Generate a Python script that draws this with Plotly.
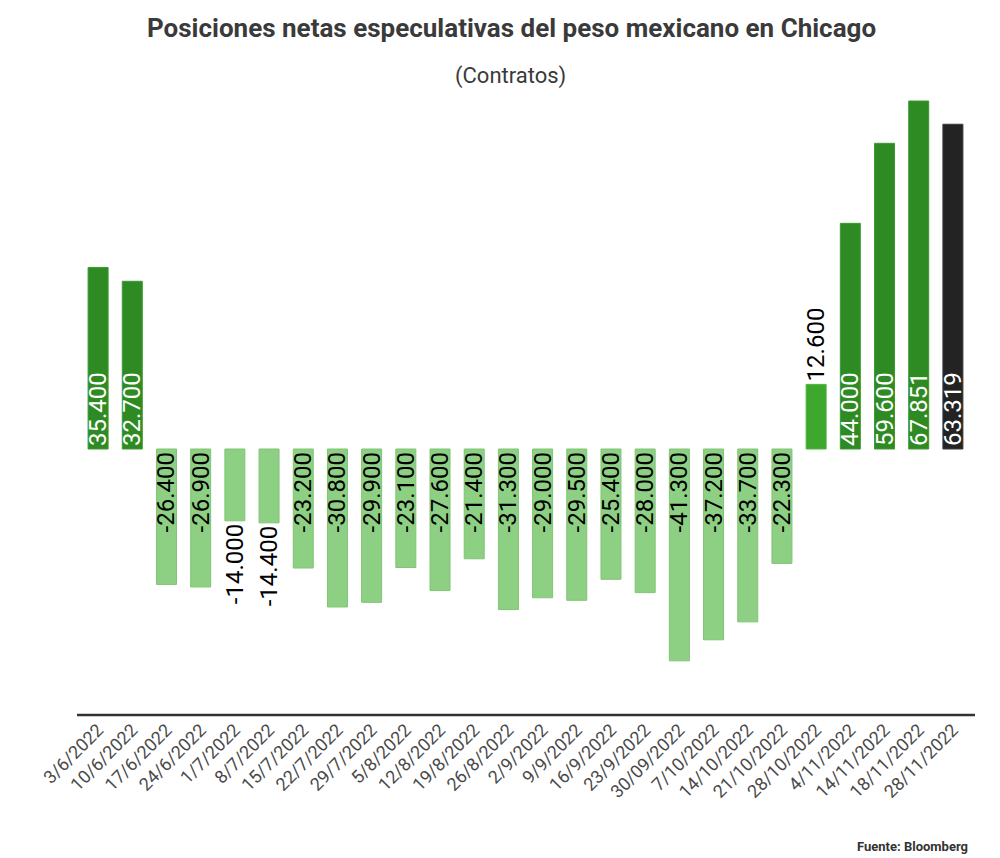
import plotly.graph_objects as go

fechas = ["3/6/2022", "10/6/2022", "17/6/2022", "24/6/2022", "1/7/2022", "8/7/2022",
          "15/7/2022", "22/7/2022", "29/7/2022", "5/8/2022", "12/8/2022", "19/8/2022",
          "26/8/2022", "2/9/2022", "9/9/2022", "16/9/2022", "23/9/2022", "30/09/2022",
          "7/10/2022", "14/10/2022", "21/10/2022", "28/10/2022", "4/11/2022",
          "14/11/2022", "18/11/2022", "28/11/2022"]
valores = [35400, 32700, -26400, -26900, -14000, -14400, -23200, -30800, -29900,
           -23100, -27600, -21400, -31300, -29000, -29500, -25400, -28000, -41300,
           -37200, -33700, -22300, 12600, 44000, 59600, 67851, 63319]
etiquetas = ["35.400", "32.700", "-26.400", "-26.900", "-14.000", "-14.400", "-23.200",
             "-30.800", "-29.900", "-23.100", "-27.600", "-21.400", "-31.300", "-29.000",
             "-29.500", "-25.400", "-28.000", "-41.300", "-37.200", "-33.700", "-22.300",
             "12.600", "44.000", "59.600", "67.851", "63.319"]
etiquetas_fuera = ["1/7/2022", "8/7/2022", "28/10/2022"]

DARK = "#2e8a22"
LIGHT = "#8ed083"
BRIGHT = "#3da82d"
BLACK = "#232323"

colores = []
bordes = []
colores_texto = []
posiciones = []
for i, v in enumerate(valores):
    if i == len(valores) - 1:
        colores.append(BLACK); bordes.append("#3a3a3a"); colores_texto.append("white")
    elif fechas[i] == "28/10/2022":
        colores.append(BRIGHT); bordes.append("#4cb63c"); colores_texto.append("white")
    elif v >= 0:
        colores.append(DARK); bordes.append("#3c9a30"); colores_texto.append("white")
    else:
        colores.append(LIGHT); bordes.append("#80c474"); colores_texto.append("black")
    posiciones.append("outside" if fechas[i] in etiquetas_fuera else "inside")

fig = go.Figure(go.Bar(
    x=fechas, y=valores, text=etiquetas,
    texttemplate="%{text}",
    textposition=posiciones,
    textangle=-90,
    insidetextanchor="start",
    insidetextfont=dict(family="Roboto", size=24, color=colores_texto),
    outsidetextfont=dict(family="Roboto", size=24, color="black"),
    cliponaxis=False,
    constraintext="none",
    marker=dict(color=colores, line=dict(color=bordes, width=1)),
    hoverinfo="skip",
))

fig.update_layout(
    width=992, height=850,
    paper_bgcolor="white", plot_bgcolor="white",
    margin=dict(l=73, r=30, t=87, b=143),
    bargap=0.415,
    showlegend=False,
    font=dict(family="Roboto", color="#444444"),
    xaxis=dict(
        type="category", tickangle=-45, showgrid=False, zeroline=False,
        showline=False, ticks="",
        tickfont=dict(family="Roboto", size=18, color="#4a4a4a"),
    ),
    yaxis=dict(
        range=[-51860, 69020], showgrid=False, zeroline=False,
        showticklabels=False, showline=False, ticks="",
    ),
    shapes=[
        dict(type="line", xref="paper", yref="paper",
             x0=-4 / 889, x1=1 + 5 / 889, y0=0, y1=0,
             line=dict(color="#333333", width=2.5)),
    ],
    annotations=[
        dict(text="<b>Posiciones netas especulativas del peso mexicano en Chicago</b>",
             xref="paper", yref="paper", x=0.5, y=1, yshift=67, xshift=-14,
             xanchor="center", yanchor="middle",
             font=dict(family="Roboto", size=26, color="#3a3a3a"), showarrow=False),
        dict(text="(Contratos)", xref="paper", yref="paper", x=0.5, y=1,
             yshift=19, xshift=-15,
             xanchor="center", yanchor="middle",
             font=dict(family="Roboto", size=22, color="#3a3a3a"), showarrow=False),
        dict(text="<b>Fuente: Bloomberg</b>", xref="paper", yref="paper", x=1, y=0,
             yshift=-131, xanchor="right", yanchor="middle",
             font=dict(family="Roboto", size=13, color="#333333"), showarrow=False),
    ],
)

fig.write_html("out.html")
